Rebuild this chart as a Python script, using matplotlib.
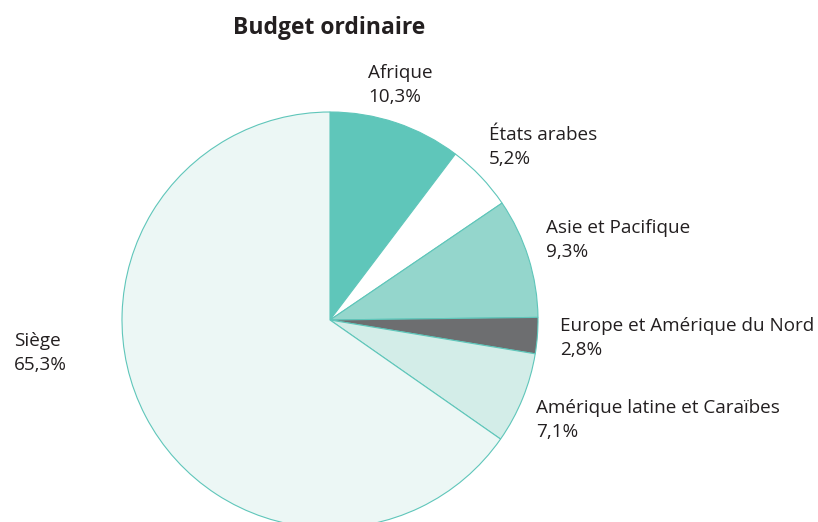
import matplotlib.pyplot as plt

regions = ["Afrique", "États arabes", "Asie et Pacifique",
           "Europe et Amérique du Nord", "Amérique latine et Caraïbes", "Siège"]
shares = [10.3, 5.2, 9.3, 2.8, 7.1, 65.3]
colors = ["#5fc6ba", "#ffffff", "#94d6cc", "#6d6e70", "#d3ede8", "#ecf7f5"]

# label anchor (left, top) in pixel coordinates, measured from the top
label_pos = [(368, 64), (489, 126), (546, 219), (560, 317), (536, 399), (14, 332)]

W, H = 818, 522
fig = plt.figure(figsize=(W / 100, H / 100), dpi=100)
ax = fig.add_axes([0, 0, 1, 1])

ax.pie(shares, colors=colors, startangle=90, counterclock=False,
       center=(330, H - 320), radius=208, frame=True,
       wedgeprops=dict(edgecolor="#5fc6ba", linewidth=0.8))
ax.set_xlim(0, W)
ax.set_ylim(0, H)
ax.set_aspect("equal")
ax.axis("off")

for name, val, (x, y) in zip(regions, shares, label_pos):
    txt = name + "\n" + f"{val:.1f}".replace(".", ",") + "%"
    ax.text(x, H - y, txt, ha="left", va="top", fontsize=13.6,
            family="Open Sans", color="#231f20", linespacing=1.45)

ax.text(329, H - 28, "Budget ordinaire", ha="center", va="center",
        fontsize=16.5, fontweight="bold", family="Open Sans", color="#231f20")

fig.savefig("out.png", dpi=100)
